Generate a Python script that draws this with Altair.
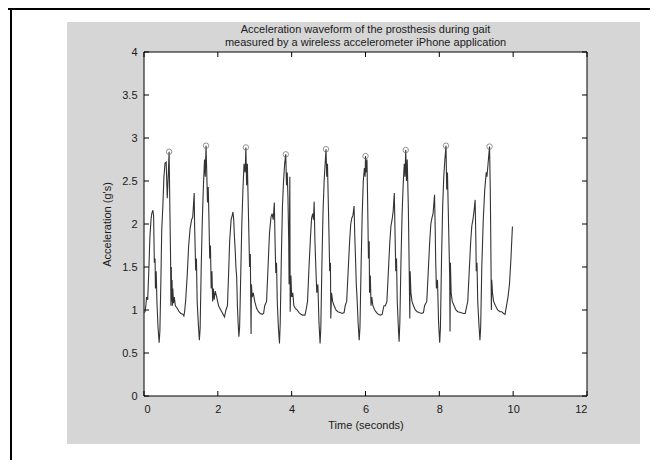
import altair as alt
import pandas as pd

# Acceleration waveform (time in s, acceleration in g)
time_s = [
    0.00, 0.03, 0.05, 0.07, 0.10, 0.13, 0.16, 0.19, 0.21, 0.24, 0.26, 0.28, 0.30, 0.31, 0.33, 0.35, 0.38, 0.41, 0.43, 0.46,
    0.48, 0.51, 0.54, 0.57, 0.60, 0.63, 0.66, 0.68, 0.70, 0.72, 0.73, 0.74, 0.75, 0.76, 0.77, 0.78, 0.80, 0.82, 0.85, 0.90,
    0.95, 1.00, 1.05, 1.08, 1.10,
    1.13, 1.17, 1.21, 1.25, 1.29, 1.32, 1.36, 1.37, 1.40, 1.42, 1.44, 1.47, 1.50, 1.52, 1.55, 1.58, 1.61, 1.64, 1.66, 1.68,
    1.70, 1.72, 1.74, 1.76, 1.78, 1.80, 1.82, 1.84, 1.86, 1.88, 1.90, 1.93, 1.97, 2.02, 2.08, 2.13, 2.18, 2.22,
    2.26, 2.29, 2.32, 2.36, 2.39, 2.41, 2.43, 2.45, 2.47, 2.49, 2.51, 2.53, 2.55, 2.57, 2.59, 2.62, 2.65, 2.68, 2.71, 2.74,
    2.76, 2.78, 2.80, 2.82, 2.84, 2.86, 2.88, 2.90, 2.91, 2.93, 2.96, 3.00, 3.05, 3.10, 3.15, 3.20, 3.24, 3.27,
    3.32, 3.36, 3.40, 3.44, 3.47, 3.50, 3.53, 3.55, 3.57, 3.59, 3.61, 3.64, 3.67, 3.69, 3.72, 3.75, 3.78, 3.81, 3.84, 3.86,
    3.88, 3.90, 3.92, 3.93, 3.95, 3.96, 3.98, 4.00, 4.03, 4.06, 4.10, 4.15, 4.20, 4.25, 4.30, 4.36, 4.39,
    4.43, 4.47, 4.51, 4.54, 4.57, 4.59, 4.61, 4.63, 4.66, 4.68, 4.71, 4.74, 4.77, 4.79, 4.82, 4.85, 4.88, 4.90, 4.93, 4.95,
    4.97, 4.99, 5.01, 5.03, 5.05, 5.06, 5.08, 5.11, 5.15, 5.20, 5.25, 5.31, 5.37, 5.42, 5.45,
    5.49, 5.53, 5.57, 5.60, 5.63, 5.66, 5.69, 5.71, 5.73, 5.75, 5.77, 5.80, 5.83, 5.85, 5.88, 5.91, 5.94, 5.97, 5.99, 6.00,
    6.02, 6.04, 6.06, 6.08, 6.10, 6.11, 6.13, 6.15, 6.17, 6.20, 6.25, 6.30, 6.35, 6.40, 6.45, 6.50,
    6.54, 6.58, 6.62, 6.66, 6.69, 6.72, 6.75, 6.78, 6.80, 6.82, 6.84, 6.86, 6.89, 6.91, 6.93, 6.96, 6.99, 7.02, 7.05, 7.07,
    7.09, 7.11, 7.13, 7.16, 7.18, 7.20, 7.21, 7.23, 7.26, 7.30, 7.35, 7.40, 7.45, 7.52, 7.57, 7.60,
    7.66, 7.70, 7.74, 7.77, 7.80, 7.83, 7.87, 7.89, 7.90, 7.92, 7.95, 7.98, 8.01, 8.03, 8.06, 8.09, 8.12, 8.15, 8.18, 8.20,
    8.22, 8.24, 8.26, 8.28, 8.29, 8.30, 8.32, 8.35, 8.40, 8.45, 8.50, 8.58, 8.65, 8.70, 8.73,
    8.77, 8.81, 8.85, 8.88, 8.91, 8.94, 8.97, 8.99, 9.00, 9.02, 9.04, 9.07, 9.10, 9.12, 9.15, 9.19, 9.23, 9.27, 9.29, 9.32,
    9.36, 9.38, 9.39, 9.40, 9.41, 9.42, 9.44, 9.47, 9.52, 9.58, 9.64, 9.69, 9.74, 9.78, 9.82, 9.86, 9.90, 9.94, 9.98,
]
accel_g = [
    0.97, 0.98, 1.05, 1.15, 1.12, 1.45, 1.85, 2.05, 2.12, 2.16, 2.10, 1.55, 1.60, 1.25, 1.45, 1.10, 0.80, 0.62, 0.75, 1.40,
    1.93, 2.20, 2.55, 2.71, 2.72, 2.30, 2.60, 2.84, 2.20, 1.60, 1.05, 1.50, 1.10, 1.35, 1.05, 1.25, 1.08, 1.15, 1.05, 1.02,
    0.98, 0.96, 0.95, 0.93, 0.98,
    1.12, 1.40, 1.75, 1.95, 2.05, 2.08, 2.36, 2.00, 1.46, 1.60, 1.10, 0.85, 0.65, 0.78, 1.50, 2.05, 2.45, 2.75, 2.55, 2.91,
    2.60, 2.25, 2.43, 2.05, 1.60, 1.75, 1.25, 1.45, 1.10, 1.25, 1.12, 1.22, 1.15, 1.05, 1.00, 0.96, 0.92, 1.00,
    1.05, 1.40, 1.80, 2.05, 2.10, 2.14, 2.05, 1.85, 1.70, 1.50, 1.39, 1.05, 0.85, 0.69, 0.80, 1.40, 2.00, 2.40, 2.70, 2.60,
    2.89, 2.45, 2.70, 2.30, 1.90, 1.50, 1.65, 0.72, 1.30, 1.15, 1.20, 1.10, 1.02, 0.98, 0.96, 0.95, 0.96, 1.05,
    1.10, 1.50, 1.90, 2.08, 2.12, 2.05, 2.25, 1.80, 1.43, 1.55, 1.10, 0.80, 0.61, 0.85, 1.60, 2.20, 2.50, 2.70, 2.81, 2.45,
    2.60, 2.30, 1.80, 1.30, 2.55, 0.98, 1.40, 1.15, 1.20, 1.05, 1.02, 1.00, 0.97, 0.95, 0.94, 0.94, 1.00,
    1.10, 1.50, 1.85, 2.07, 2.12, 2.05, 2.26, 1.80, 1.43, 1.20, 1.30, 0.85, 0.61, 0.80, 1.55, 2.15, 2.50, 2.65, 2.87, 2.55,
    2.70, 2.30, 1.90, 1.45, 1.55, 0.90, 1.20, 1.10, 1.05, 1.00, 0.98, 0.97, 0.96, 0.97, 1.05,
    1.10, 1.45, 1.80, 2.00, 2.07, 2.10, 2.21, 1.85, 1.60, 1.30, 1.15, 0.85, 0.65, 0.80, 1.50, 2.10, 2.50, 2.65, 2.55, 2.79,
    2.60, 2.75, 2.20, 1.60, 1.80, 1.20, 1.40, 1.05, 1.15, 1.05, 1.00, 0.97, 0.95, 0.94, 0.95, 1.05,
    1.05, 1.10, 1.45, 1.80, 1.98, 2.05, 2.15, 2.36, 1.90, 1.45, 1.60, 1.10, 0.80, 0.63, 0.85, 1.55, 2.10, 2.45, 2.70, 2.55,
    2.86, 2.50, 2.75, 2.20, 1.60, 0.90, 1.45, 1.20, 1.10, 1.05, 1.00, 0.98, 0.97, 0.96, 0.97, 1.05,
    1.10, 1.45, 1.80, 2.00, 2.07, 2.12, 2.34, 1.90, 1.60, 1.25, 1.35, 0.85, 0.62, 0.80, 1.60, 2.20, 2.55, 2.75, 2.91, 2.40,
    2.60, 2.20, 1.80, 1.40, 0.75, 1.55, 1.20, 1.10, 1.05, 1.00, 0.98, 0.97, 0.96, 0.96, 1.02,
    1.10, 1.45, 1.80, 1.98, 2.05, 2.15, 2.28, 1.80, 1.45, 1.55, 1.10, 0.85, 0.65, 0.80, 1.50, 2.05, 2.40, 2.60, 2.55, 2.70,
    2.90, 2.40, 2.00, 1.50, 1.00, 1.35, 1.20, 1.10, 1.05, 1.00, 0.98, 0.98, 0.96, 0.95, 1.05, 1.15, 1.30, 1.60, 1.97,
]

# Detected peaks (circles)
peak_t = [0.68, 1.68, 2.76, 3.84, 4.93, 6.00, 7.09, 8.18, 9.36]
peak_v = [2.84, 2.91, 2.89, 2.81, 2.87, 2.79, 2.86, 2.91, 2.90]

x_ticks = [0, 2, 4, 6, 8, 10, 12]
y_ticks = [0, 0.5, 1, 1.5, 2, 2.5, 3, 3.5, 4]

title_lines = ["Acceleration waveform of the prosthesis during gait",
               "measured by a wireless accelerometer iPhone application"]

W, H = 443, 344
FONT = "Liberation Sans"

wave = pd.DataFrame({"t": time_s, "a": accel_g})
peaks = pd.DataFrame({"t": peak_t, "a": peak_v})
xt = pd.DataFrame({"v": x_ticks})
yt = pd.DataFrame({"v": y_ticks})
one = pd.DataFrame({"k": [0]})

xscale = alt.Scale(domain=[0, 12], nice=False, zero=False)
yscale = alt.Scale(domain=[0, 4], nice=False, zero=False)

gray_bg = alt.Chart(one).mark_rect(color="#d6d6d6").encode(
    x=alt.value(-77), x2=alt.value(496), y=alt.value(-30), y2=alt.value(392)
)
top_line = alt.Chart(one).mark_rule(color="#000000", strokeWidth=2).encode(
    x=alt.value(-136), x2=alt.value(510), y=alt.value(-43)
)
left_line = alt.Chart(one).mark_rule(color="#000000", strokeWidth=2).encode(
    x=alt.value(-133), y=alt.value(-44), y2=alt.value(420)
)
plot_bg = alt.Chart(one).mark_rect(color="#ffffff", stroke="#000000", strokeWidth=1).encode(
    x=alt.value(0), x2=alt.value(W), y=alt.value(0), y2=alt.value(H)
)

title1 = alt.Chart(one).mark_text(
    text=title_lines[0], font=FONT, fontSize=11, color="#1a1a1a", align="center", baseline="middle"
).encode(x=alt.value(W / 2), y=alt.value(-22))
title2 = alt.Chart(one).mark_text(
    text=title_lines[1], font=FONT, fontSize=11, color="#1a1a1a", align="center", baseline="middle"
).encode(x=alt.value(W / 2), y=alt.value(-9))

xt_bottom = alt.Chart(xt).mark_rule(color="#000000").encode(
    x=alt.X("v:Q", scale=xscale), y=alt.value(H), y2=alt.value(H - 5)
)
xt_top = alt.Chart(xt).mark_rule(color="#000000").encode(
    x=alt.X("v:Q", scale=xscale), y=alt.value(0), y2=alt.value(5)
)
yt_left = alt.Chart(yt).mark_rule(color="#000000").encode(
    y=alt.Y("v:Q", scale=yscale), x=alt.value(0), x2=alt.value(5)
)
yt_right = alt.Chart(yt).mark_rule(color="#000000").encode(
    y=alt.Y("v:Q", scale=yscale), x=alt.value(W), x2=alt.value(W - 5)
)

line = alt.Chart(wave).mark_line(color="#333333", strokeWidth=1.1).encode(
    x=alt.X("t:Q", scale=xscale,
            axis=alt.Axis(title="Time (seconds)", values=x_ticks, domain=False, ticks=False, grid=False,
                          labelPadding=7, titlePadding=5, zindex=1)),
    y=alt.Y("a:Q", scale=yscale,
            axis=alt.Axis(title="Acceleration (g's)", values=y_ticks, format="~g", domain=False, ticks=False,
                          grid=False, labelPadding=7, titlePadding=9, zindex=1)),
)
circles = alt.Chart(peaks).mark_point(shape="circle", filled=False, color="#666666", size=30, strokeWidth=1).encode(
    x=alt.X("t:Q", scale=xscale), y=alt.Y("a:Q", scale=yscale)
)

chart = alt.layer(
    gray_bg, top_line, left_line, plot_bg, title1, title2, xt_bottom, xt_top, yt_left, yt_right, line, circles
).properties(
    width=W, height=H,
    autosize=alt.AutoSizeParams(type="none"),
    padding={"left": 136, "top": 44, "right": 63, "bottom": 64},
    background="#ffffff",
).configure_view(stroke=None).configure_axis(
    labelFont=FONT, titleFont=FONT, labelFontSize=11, titleFontSize=11,
    labelColor="#1a1a1a", titleColor="#1a1a1a", titleFontWeight="normal",
)

chart.save("out.html", embed_options={"renderer": "svg", "actions": False})
